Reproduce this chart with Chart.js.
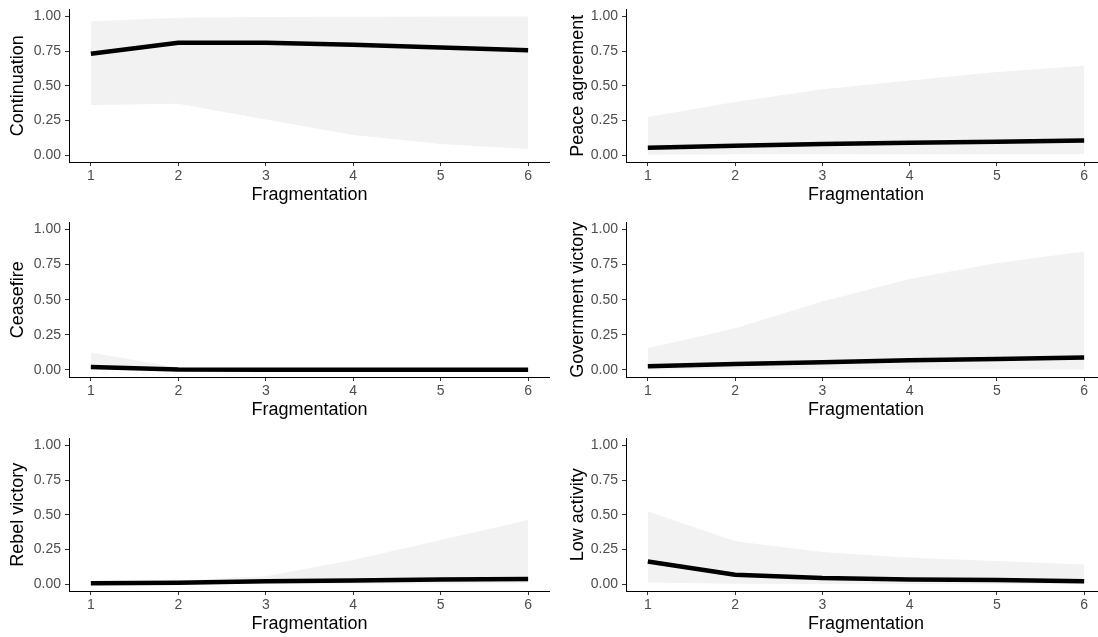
<!DOCTYPE html>
<html>
<head>
<meta charset="utf-8">
<script src="https://cdn.jsdelivr.net/npm/chart.js@4.4.0/dist/chart.umd.min.js"></script>
<style>
  html, body { margin: 0; padding: 0; background: #fff; }
  body { width: 1098px; height: 637px; position: relative; overflow: hidden; }
  canvas { position: absolute; }
</style>
</head>
<body>
<script>
// x values and tick labels
const fragmentation = [1, 2, 3, 4, 5, 6];
const yTicks = [0, 0.25, 0.5, 0.75, 1];

// predicted probabilities (line) and ribbon bounds
const continuationFit = [0.73, 0.81, 0.81, 0.795, 0.775, 0.755];
const continuationLow = [0.36, 0.37, 0.257, 0.144, 0.079, 0.043];
const continuationHigh = [0.965, 0.99, 0.995, 0.997, 0.998, 0.999];

const peaceFit = [0.053, 0.067, 0.079, 0.089, 0.096, 0.105];
const peaceLow = [0.003, 0.005, 0.006, 0.007, 0.007, 0.008];
const peaceHigh = [0.275, 0.383, 0.474, 0.538, 0.598, 0.644];

const ceasefireFit = [0.022, 0.004, 0.002, 0.001, 0.001, 0.001];
const ceasefireLow = [0.003, 0, 0, 0, 0, 0];
const ceasefireHigh = [0.125, 0.015, 0.008, 0.006, 0.005, 0.005];

const govFit = [0.026, 0.043, 0.055, 0.069, 0.078, 0.088];
const govLow = [0.002, 0.003, 0.003, 0.003, 0.003, 0.003];
const govHigh = [0.154, 0.297, 0.487, 0.648, 0.762, 0.843];

const rebelFit = [0.005, 0.01, 0.021, 0.026, 0.033, 0.036];
const rebelLow = [0, 0, 0.001, 0.002, 0.004, 0.006];
const rebelHigh = [0.012, 0.026, 0.057, 0.174, 0.317, 0.461];

const lowActFit = [0.162, 0.067, 0.043, 0.033, 0.029, 0.021];
const lowActLow = [0.012, 0.002, 0.001, 0.001, 0.001, 0.001];
const lowActHigh = [0.523, 0.308, 0.232, 0.189, 0.167, 0.141];

const panels = [
  { title: "Continuation", fit: continuationFit, low: continuationLow, high: continuationHigh, col: 0, row: 0 },
  { title: "Peace agreement", fit: peaceFit, low: peaceLow, high: peaceHigh, col: 1, row: 0 },
  { title: "Ceasefire", fit: ceasefireFit, low: ceasefireLow, high: ceasefireHigh, col: 0, row: 1 },
  { title: "Government victory", fit: govFit, low: govLow, high: govHigh, col: 1, row: 1 },
  { title: "Rebel victory", fit: rebelFit, low: rebelLow, high: rebelHigh, col: 0, row: 2 },
  { title: "Low activity", fit: lowActFit, low: lowActLow, high: lowActHigh, col: 1, row: 2 },
];

// panel geometry
const cols = [
  { left: 0, axisWidth: 69, width: 550, titlePad: 7.5 },
  { left: 549, axisWidth: 77, width: 557, titlePad: 18.5 },
];
const rows = [
  { top: 9, height: 153 },
  { top: 222, height: 155 },
  { top: 438, height: 153 },
];
const padTop = 12;
const xAxisHeight = 45;

Chart.defaults.font.family = '"Liberation Sans", Arial, sans-serif';

function toPoints(arr) {
  return fragmentation.map((f, i) => ({ x: f, y: arr[i] }));
}

function drawPanel(p) {
  const col = cols[p.col];
  const row = rows[p.row];
  const canvas = document.createElement("canvas");
  const h = padTop + row.height + xAxisHeight;
  canvas.style.left = col.left + "px";
  canvas.style.top = (row.top - padTop) + "px";
  canvas.style.width = col.width + "px";
  canvas.style.height = h + "px";
  canvas.width = col.width;
  canvas.height = h;
  document.body.appendChild(canvas);

  new Chart(canvas.getContext("2d"), {
    type: "line",
    data: {
      datasets: [
        {
          data: toPoints(p.fit),
          borderColor: "#000",
          borderWidth: 4.5,
          borderCapStyle: "butt",
          borderJoinStyle: "round",
          pointRadius: 0,
          fill: false,
          tension: 0,
        },
        {
          data: toPoints(p.high),
          borderWidth: 0,
          pointRadius: 0,
          backgroundColor: "#f2f2f2",
          fill: "+1",
        },
        {
          data: toPoints(p.low),
          borderWidth: 0,
          pointRadius: 0,
          fill: false,
        },
      ],
    },
    options: {
      responsive: false,
      animation: false,
      devicePixelRatio: 1,
      layout: { padding: { top: padTop, right: 0, bottom: 0, left: 0 } },
      plugins: { legend: { display: false }, tooltip: { enabled: false } },
      scales: {
        x: {
          type: "linear",
          min: 0.75,
          max: 6.25,
          afterBuildTicks: (s) => { s.ticks = fragmentation.map((v) => ({ value: v })); },
          afterFit: (s) => { s.height = xAxisHeight; },
          border: { display: true, color: "#000", width: 1 },
          grid: { drawOnChartArea: false, drawTicks: true, tickLength: 4, color: "#333" },
          ticks: { color: "#4d4d4d", font: { size: 14 }, padding: 2, maxRotation: 0 },
          title: { display: true, text: "Fragmentation", color: "#000", font: { size: 18 }, padding: { top: 0, bottom: 1.5 } },
        },
        y: {
          type: "linear",
          min: -0.05,
          max: 1.05,
          afterBuildTicks: (s) => { s.ticks = yTicks.map((v) => ({ value: v })); },
          afterFit: (s) => { s.width = col.axisWidth; },
          border: { display: true, color: "#000", width: 1 },
          grid: { drawOnChartArea: false, drawTicks: true, tickLength: 4, color: "#333" },
          ticks: { color: "#4d4d4d", font: { size: 14 }, padding: 4, callback: (v) => v.toFixed(2) },
          title: { display: true, text: p.title, color: "#000", font: { size: 18 }, padding: { top: col.titlePad, bottom: 0 } },
        },
      },
    },
  });
}

panels.forEach(drawPanel);
</script>
</body>
</html>
